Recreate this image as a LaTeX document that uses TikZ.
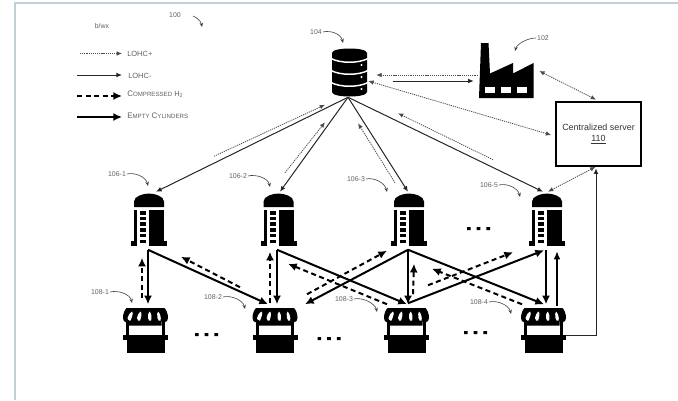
\documentclass[tikz,border=0pt]{standalone}
\usepackage{fontspec}
\setmainfont{Liberation Sans}
\usetikzlibrary{arrows.meta,calc}
\definecolor{framecol}{HTML}{C0D0D4}
\newcommand\smc[2]{{\fontsize{6}{6}\selectfont #1}{\fontsize{4.6}{6}\selectfont #2}}
\newcommand\reflabel[6]{%
  \node[reflbl] (#1) at (#2,#3) {#4};
  \coordinate (#1e) at (#5,#6);
  \draw[leader] (#1.east) .. controls +(8,-2) and +(-2,-9) .. (#1e);}
\tikzset{
  x=0.75pt,y=-0.75pt,
  reflbl/.style={font=\fontsize{5.2}{6}\selectfont,text=black!62,inner sep=0.6pt},
  leader/.style={draw=black!75,line width=0.45pt,-{Stealth[length=3.2pt,width=2.6pt]}},
  lgd/.style={font=\fontsize{5.6}{6}\selectfont,text=black!62,inner sep=0pt,anchor=west},
  lohcp/.style={draw=black!70,line width=0.6pt,dash pattern=on 0.9pt off 0.7pt,-{Latex[length=4pt,width=3.4pt]},shorten >=0pt},
  lohcpb/.style={lohcp,{Latex[length=4pt,width=3.4pt]}-{Latex[length=4pt,width=3.4pt]}},
  lohcm/.style={draw=black!85,line width=0.75pt,-{Latex[length=4.2pt,width=3.6pt]}},
  hyd/.style={draw=black,line width=1.5pt,dash pattern=on 3.8pt off 2.6pt,-{Latex[length=6.5pt,width=6pt]}},
  empty/.style={draw=black,line width=1.5pt,-{Latex[length=6.5pt,width=6pt]}},
  towerbox/.style={inner sep=0pt,minimum width=25.5pt,minimum height=40.5pt},
  storebox/.style={inner sep=0pt,minimum width=33pt,minimum height=34.5pt},
  dbbox/.style={inner sep=0pt,minimum width=26.25pt,minimum height=36pt},
  factbox/.style={inner sep=0pt,minimum width=40.5pt,minimum height=41.25pt},
  server/.style={draw=black,line width=1.25pt,inner sep=0pt,minimum width=63.75pt,minimum height=48pt,align=center,font=\fontsize{6.7}{8.4}\selectfont,text=black!80},
  dots3/.pic={\fill (-11.5,0) rectangle +(3.6,3) (-1.8,0) rectangle +(3.6,3) (7.9,0) rectangle +(3.6,3);},
  tower/.pic={
    \fill[black] (-15,-12.5) -- (-15,-18) .. controls (-15,-23) and (-6,-26) .. (0,-26) .. controls (6,-26) and (15,-23) .. (15,-18) -- (15,-12.5) -- cycle;
    \fill[black] (-15,-9.5) rectangle (-12,21);
    \fill[black] (0,-9.5) rectangle (15,21);
    \fill[black] (-18,21) rectangle (-12,26);
    \fill[black] (0,21) rectangle (18,26);
    \foreach \k in {0,...,5} {\fill[black] (-9,-8.5+5.7*\k) rectangle (-3,-5+5.7*\k);}
  },
  store/.pic={
    \fill[black] (-19,0) -- (19,0) .. controls (21,2) and (22.5,6) .. (22.5,10) .. controls (22.5,15) and (17,15) .. (16,13) -- (16,17.5) -- (-16.5,17.5) -- (-16.5,13) .. controls (-17.5,15) and (-22.5,15) .. (-22.5,10) .. controls (-22.5,6) and (-21,2) .. (-19,0) -- cycle;
    \foreach \a/\b in {-14/-16,-5.5/-6.5,3.5/4.5,12/14} {\fill[white] (\a+0.5,3.5) .. controls (\a+2.5,5) and (\b+2,10) .. (\b+1,12.5) .. controls (\b,13.5) and (\b-2,12.5) .. (\b-2,10) .. controls (\b-2,7) and (\a-1,5) .. (\a+0.5,3.5) -- cycle;}
    \fill[black] (-19.5,12) rectangle (-16.5,29);
    \fill[black] (16,12) rectangle (19,29);
    \fill[black] (-22.5,27) rectangle (22.5,32);
    \fill[black] (-19,32) rectangle (19,44.5);
  },
  dbicon/.pic={
    \fill[black] (-17.5,-19) .. controls (-17.5,-25) and (17.5,-25) .. (17.5,-19) -- (17.5,20) .. controls (17.5,26) and (-17.5,26) .. (-17.5,20) -- cycle;
    \foreach \yy in {-13.5,-1.5,10.5} {\draw[white,line width=1.1pt] (-18.5,\yy) .. controls (-9,\yy+5) and (9,\yy+5) .. (18.5,\yy);}
    \foreach \yy in {-7,5,17} {\fill[white] (12,\yy) circle (1.2);}
  },
  facticon/.pic={
    \fill[black] (-27,27.5) -- (-25,-27.5) -- (-17.5,-27.5) -- (-16,3) -- (7,-7.5) -- (7,3) -- (27.5,-7.5) -- (27.5,27.5) -- cycle;
    \foreach \a in {-21,-5.5,10.5} {\fill[white] (\a,16) rectangle (\a+10,22);}
  }
}
\begin{document}
\begin{tikzpicture}
\useasboundingbox (0,0) rectangle (678,400);
\fill[white] (0,0) rectangle (678,400);
% frame
\fill[framecol] (14,2) rectangle (678,4);
\fill[framecol] (14,2) rectangle (16,400);
% legend
\node[reflbl] (lgdtitle) at (102,26) {b/wx};
\node[lgd] (lp) at (127,54) {LOHC+};
\node[lgd] (lm) at (128,76) {LOHC-};
\node[lgd] (lh) at (127,94) {\smc{C}{OMPRESSED} H\textsubscript{2}};
\node[lgd] (le) at (127,116) {\smc{E}{MPTY} \smc{C}{YLINDERS}};
\coordinate (lps) at (80,53.5);
\coordinate (lpe) at (122,53.5);
\coordinate (lms) at (77,75);
\coordinate (lme) at (122,75);
\coordinate (lhs) at (77,96);
\coordinate (lhe) at (122,96);
\coordinate (les) at (77,117);
\coordinate (lee) at (122,117);
\draw[lohcp] (lps) -- (lpe);
\draw[lohcm] (lms) -- (lme);
\draw[hyd] (lhs) -- (lhe);
\draw[empty] (les) -- (lee);
\node[reflbl] (l100) at (175,15) {100};
\coordinate (l100e) at (202,27);
\coordinate (l100s) at (193,16);
\draw[leader] (l100s) .. controls +(3,1) and +(-1,-6) .. (l100e);
% icons as nodes
\node[dbbox] (db) at (349.5,72) {}; \pic at (db) {dbicon};
\node[factbox] (fac) at (506,70.5) {}; \pic at (fac) {facticon};
\node[server] (srv) at (598.5,134) {Centralized server\\\underline{110}};
\foreach \n/\xx in {t1/149,t2/278.5,t3/409,t4/547}{
  \node[towerbox] (\n) at (\xx,219.5) {}; \pic at (\n) {tower};}
\foreach \n/\xx in {s1/145.5,s2/275,s3/406.5,s4/543.5}{
  \node[storebox] (\n) at (\xx,330.5) {}; \pic at (\xx,308) {store};}
% ellipses
\foreach \xx/\yy in {206.5/333,329/337,478.5/227,475.5/331} \pic at (\xx,\yy) {dots3};
% reference labels
\reflabel{l104}{316}{32}{104}{343}{43}
\node[reflbl] (l102) at (543,38) {102};
\coordinate (l102e) at (515,51);
\draw[leader] (l102.west) .. controls +(-9,0) and +(2,-7) .. (l102e);
\reflabel{l1061}{117}{174}{106-1}{148}{186}
\reflabel{l1062}{238}{176}{106-2}{270}{187}
\reflabel{l1063}{356}{179}{106-3}{387}{192}
\reflabel{l1065}{489}{185}{106-5}{520}{197}
\reflabel{l1081}{100}{292}{108-1}{132}{303}
\reflabel{l1082}{213}{297}{108-2}{245}{309}
\reflabel{l1083}{344}{299}{108-3}{377}{312}
\reflabel{l1084}{479}{302}{108-4}{511}{314}
% database to towers
\draw[lohcm] ([shift={(-1.5,1)}]db.south) -- ([shift={(7,-0.5)}]t1.north);
\draw[lohcm] ([shift={(-1.5,1)}]db.south) -- ([shift={(1.5,-0.5)}]t2.north);
\draw[lohcm] ([shift={(-1.5,1)}]db.south) -- ([shift={(-1,-0.5)}]t3.north);
\draw[lohcm] ([shift={(-1.5,1)}]db.south) -- ([shift={(-4,-0.5)}]t4.north);
\draw[lohcp] ([shift={(65,-36)}]t1.north) -- ([shift={(-24.5,8.5)}]db.south);
\draw[lohcp] ([shift={(6.5,-19.5)}]t2.north) -- ([shift={(-24.5,26)}]db.south);
\draw[lohcp] ([shift={(-14,-9.5)}]t3.north) -- ([shift={(8.5,27)}]db.south);
\draw[lohcp] ([shift={(-54,-32.5)}]t4.north) -- ([shift={(48.5,17)}]db.south);
% upper links
\draw[lohcp] ([shift={(-1,4.5)}]fac.west) -- ([shift={(9,3)}]db.east);
\draw[lohcm] ([shift={(26,9)}]db.east) -- ([shift={(-5,10.5)}]fac.west);
\draw[lohcpb] ([shift={(1,9)}]db.east) -- ([shift={(-4,1)}]srv.west);
\draw[lohcpb] ([shift={(6,0.5)}]fac.east) -- ([shift={(-2.5,-1.5)}]srv.north);
\draw[lohcpb] ([shift={(-3,0)}]srv.south) -- ([shift={(1,-0.5)}]t4.north);
\coordinate (wirecorner) at (596,335);
\draw[lohcm] (s4.east |- wirecorner) -- (wirecorner) -- ([shift={(-2.5,1.5)}]srv.south);
% tower - store links
\draw[empty] ([shift={(-1,3)}]t1.south) -- ([shift={(2.5,-3)}]s1.north);
\draw[hyd] ([shift={(-3.5,-9)}]s1.north) -- ([shift={(-7,11)}]t1.south);
\draw[empty] ([shift={(-1,3)}]t1.south) -- ([shift={(-7,-3)}]s2.north);
\draw[hyd] ([shift={(-35,-20)}]s2.north) -- ([shift={(32,10)}]t1.south);
\draw[empty] ([shift={(-1.5,3)}]t2.south) -- ([shift={(2,-3)}]s2.north);
\draw[hyd] ([shift={(-5,-4)}]s2.north) -- ([shift={(-8.5,5)}]t2.south);
\draw[empty] ([shift={(-1.5,3)}]t2.south) -- ([shift={(0.5,-3)}]s3.north);
\draw[hyd] ([shift={(-19.5,-3)}]s3.north) -- ([shift={(9.5,17)}]t2.south);
\draw[empty] ([shift={(-1,3)}]t3.south) -- ([shift={(30,-3)}]s2.north);
\draw[hyd] ([shift={(32,-13)}]s2.north) -- ([shift={(-22,4)}]t3.south);
\draw[empty] ([shift={(-1,3)}]t3.south) -- ([shift={(1.5,-3)}]s3.north);
\draw[hyd] ([shift={(6.5,-13)}]s3.north) -- ([shift={(5,17)}]t3.south);
\draw[empty] ([shift={(-1,3)}]t3.south) -- ([shift={(0.5,-3)}]s4.north);
\draw[hyd] ([shift={(-21.5,-3)}]s4.north) -- ([shift={(23,22)}]t3.south);
\draw[empty] ([shift={(1.5,-4)}]s3.north) -- ([shift={(-3,3.5)}]t4.south);
\draw[hyd] ([shift={(21.5,-22)}]s3.north) -- ([shift={(-34,5.5)}]t4.south);
\draw[empty] ([shift={(-1,3)}]t4.south) -- ([shift={(2.5,-3)}]s4.north);
\draw[draw=black,line width=1.05pt,-{Latex[length=6pt,width=5pt]}] ([shift={(13.5,-1)}]s4.north) -- ([shift={(10,4.5)}]t4.south);
\end{tikzpicture}
\end{document}
